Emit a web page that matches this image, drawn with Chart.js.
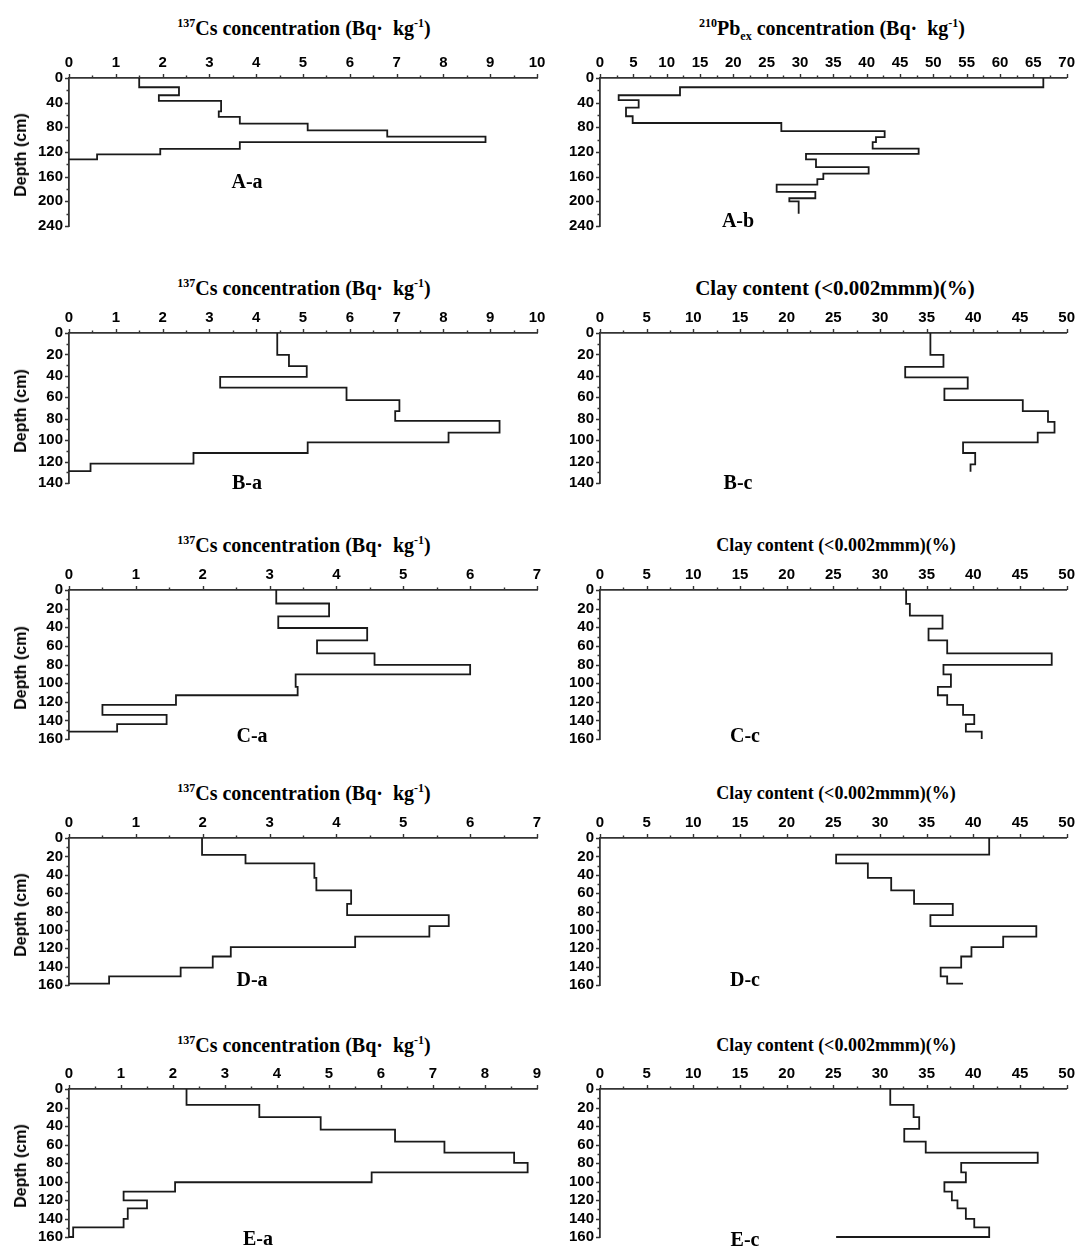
<!DOCTYPE html>
<html>
<head>
<meta charset="utf-8">
<script src="https://cdn.jsdelivr.net/npm/chart.js@4.4.0/dist/chart.umd.min.js"></script>
<style>
  html,body{margin:0;padding:0;background:#fff;}
  body{width:1081px;height:1252px;position:relative;overflow:hidden;}
  canvas.c{position:absolute;}
  .ttl{position:absolute;font-family:"Liberation Serif","Times New Roman",serif;font-weight:bold;color:#000;white-space:nowrap;transform:translate(-50%,-50%);line-height:1;}
  .ttl sup{font-size:60%;vertical-align:0.7em;line-height:0;}
  .ttl sub{font-size:60%;vertical-align:-0.45em;line-height:0;}
  .lbl{position:absolute;font-family:"Liberation Serif","Times New Roman",serif;font-weight:bold;font-size:20px;color:#000;white-space:nowrap;transform:translate(-50%,-50%);line-height:1;}
  .dep{position:absolute;font-family:"Liberation Sans",Arial,sans-serif;font-weight:bold;font-size:16px;color:#000;white-space:nowrap;transform:translate(-50%,-50%) rotate(-90deg);line-height:1;}
</style>
</head>
<body>
<script>
// ---------------- DATA ----------------
// Tick labels (axis ranges / steps)
const csTicks10 = [0,1,2,3,4,5,6,7,8,9,10];
const csTicks7 = [0,1,2,3,4,5,6,7];
const csTicks9 = [0,1,2,3,4,5,6,7,8,9];
const pbTicks70 = [0,5,10,15,20,25,30,35,40,45,50,55,60,65,70];
const clayTicks50 = [0,5,10,15,20,25,30,35,40,45,50];
const depthTicks240 = [0,40,80,120,160,200,240];
const depthTicks140 = [0,20,40,60,80,100,120,140];
const depthTicks160 = [0,20,40,60,80,100,120,140,160];

// A-a : 137Cs (Bq/kg) by depth layer (layer boundaries in cm)
const aaDepth = [0,15,28,37,54,63,74,85,95,104,115,124,132];
const aaCs    = [1.5,2.35,1.92,3.25,3.2,3.65,5.1,6.8,8.9,3.65,1.95,0.6];
const aaTail  = 0;

// A-b : 210Pbex (Bq/kg)
const abDepth = [0,15,28,36,48,62,73,86,96,104,114.5,123,132,144.5,155,164,173,184.5,195,200,220];
const abPb    = [66.5,12,2.8,5.8,3.9,4.9,27.2,42.7,41.4,40.9,47.8,30.9,32.4,40.3,33.5,32.6,26.5,32.3,28.4,29.8];
const abTail  = null;

// B-a : 137Cs
const baDepth = [0,20.5,31,41,51,62.6,73,82,93,102,112,122,129];
const baCs    = [4.45,4.7,5.08,3.23,5.93,7.06,6.97,9.2,8.11,5.1,2.66,0.46];
const baTail  = 0;

// B-c : clay content (%)
const bcDepth = [0,20.5,31.6,41.5,52,62.6,73,83,93,102,112,122.6,129.5];
const bcClay  = [35.4,36.8,32.7,39.4,36.9,45.3,48,48.7,46.9,38.9,40.2,39.7];
const bcTail  = null;

// C-a : 137Cs
const caDepth = [0,14.5,28.3,40.8,54,68,80.5,90.5,104,113,123.4,134,144,152];
const caCs    = [3.1,3.89,3.13,4.46,3.71,4.57,6.0,3.39,3.42,1.6,0.5,1.46,0.72];
const caTail  = 0;

// C-c : clay content (%)
const ccDepth = [0,15,27.6,41.5,54,68,80.5,90.5,104,113,123.4,134,144,152,160];
const ccClay  = [32.8,33.2,36.7,35.2,37.2,48.4,36.8,37.6,36.2,37.2,38.9,40.1,39.2,40.9];
const ccTail  = null;

// D-a : 137Cs
const daDepth = [0,18.4,27.7,43.3,57,71.7,84,96,107.4,118.8,129,141,150.6,158.6];
const daCs    = [1.99,2.64,3.67,3.7,4.22,4.16,5.68,5.39,4.28,2.42,2.15,1.67,0.6];
const daTail  = 0;

// D-c : clay content (%)
const dcDepth = [0,18,27.7,43.3,57,71.7,84,96,107.4,118.8,129,141,150.6,158.6];
const dcClay  = [41.7,25.3,28.7,31.2,33.65,37.8,35.4,46.75,43.2,39.8,38.7,36.5,37.2];
const dcTail  = 38.9;

// E-a : 137Cs
const eaDepth = [0,17.2,30.3,44,56.8,68.8,79.8,90.2,100.8,111,120.4,129,140.4,149.7,160];
const eaCs    = [2.26,3.66,4.84,6.27,7.22,8.56,8.82,5.82,2.04,1.05,1.5,1.13,1.05,0.08];
const eaTail  = 0;

// E-c : clay content (%)
const ecDepth = [0,17.2,30.3,43,56.8,68.8,79.8,90.2,100.8,111,120.4,129,140.4,149.7,160];
const ecClay  = [31.1,33.6,34.2,32.6,34.9,46.9,38.7,39.2,36.9,37.7,38.3,39.2,40.1,41.7];
const ecTail  = 25.3;

const csTitle   = '<sup>137</sup>Cs concentration (Bq·&nbsp;&nbsp;kg<sup>-1</sup>)';
const pbTitle   = '<sup>210</sup>Pb<sub>ex</sub> concentration (Bq·&nbsp;&nbsp;kg<sup>-1</sup>)';
const clayTitle = 'Clay content (&lt;0.002mmm)(%)';

// ---------------- LAYOUT ----------------
const COLS = [
  {canvasLeft:0,   canvasWidth:552, axisW:69, padRight:15},
  {canvasLeft:560, canvasWidth:521, axisW:40, padRight:14}
];
const ROWS = [
  {top:78,  bottom:232, titleY:28},
  {top:333, bottom:489, titleY:288},
  {top:590, bottom:745, titleY:545},
  {top:838, bottom:991, titleY:793},
  {top:1089,bottom:1243,titleY:1045}
];

const panels = [
  {name:'A-a', row:0, col:0, depth:aaDepth, vals:aaCs,   tail:aaTail, xt:csTicks10,  yt:depthTicks240, title:csTitle,   tsize:20, tx:304, lx:247, ly:181},
  {name:'A-b', row:0, col:1, depth:abDepth, vals:abPb,   tail:abTail, xt:pbTicks70,  yt:depthTicks240, title:pbTitle,   tsize:20, tx:832, lx:738, ly:220},
  {name:'B-a', row:1, col:0, depth:baDepth, vals:baCs,   tail:baTail, xt:csTicks10,  yt:depthTicks140, title:csTitle,   tsize:20, tx:304, lx:247, ly:482},
  {name:'B-c', row:1, col:1, depth:bcDepth, vals:bcClay, tail:bcTail, xt:clayTicks50,yt:depthTicks140, title:clayTitle, tsize:21, tx:835, lx:738, ly:482},
  {name:'C-a', row:2, col:0, depth:caDepth, vals:caCs,   tail:caTail, xt:csTicks7,   yt:depthTicks160, title:csTitle,   tsize:20, tx:304, lx:252, ly:735},
  {name:'C-c', row:2, col:1, depth:ccDepth, vals:ccClay, tail:ccTail, xt:clayTicks50,yt:depthTicks160, title:clayTitle, tsize:18, tx:836, lx:745, ly:735},
  {name:'D-a', row:3, col:0, depth:daDepth, vals:daCs,   tail:daTail, xt:csTicks7,   yt:depthTicks160, title:csTitle,   tsize:20, tx:304, lx:252, ly:979},
  {name:'D-c', row:3, col:1, depth:dcDepth, vals:dcClay, tail:dcTail, xt:clayTicks50,yt:depthTicks160, title:clayTitle, tsize:18, tx:836, lx:745, ly:979},
  {name:'E-a', row:4, col:0, depth:eaDepth, vals:eaCs,   tail:eaTail, xt:csTicks9,   yt:depthTicks160, title:csTitle,   tsize:20, tx:304, lx:258, ly:1238},
  {name:'E-c', row:4, col:1, depth:ecDepth, vals:ecClay, tail:ecTail, xt:clayTicks50,yt:depthTicks160, title:clayTitle, tsize:18, tx:836, lx:745, ly:1239}
];

function stepPoints(depths, vals, tail){
  const pts = [];
  for (let i = 0; i < vals.length; i++){
    pts.push({x: vals[i], y: depths[i]});
    pts.push({x: vals[i], y: depths[i+1]});
  }
  if (tail !== null) pts.push({x: tail, y: depths[depths.length-1]});
  return pts;
}

const tickFont = {family:"'Liberation Sans Narrow','Liberation Sans',Arial,sans-serif", weight:'bold', size:15};
const AXIS_COLOR = '#333';

const minorTicks = {
  id:'minorTicks',
  afterDraw(chart){
    const {ctx} = chart;
    const x = chart.scales.x, y = chart.scales.y;
    const xs = chart.options.scales.x.ticks.stepSize;
    const ys = chart.options.scales.y.ticks.stepSize;
    ctx.save();
    ctx.strokeStyle = AXIS_COLOR;
    ctx.lineWidth = 1.4;
    ctx.beginPath();
    for (let k = 0; k <= Math.round((x.max - x.min) / (xs/2)); k++){
      const v = x.min + k * xs/2;
      const px = Math.round(x.getPixelForValue(v)) + 0.5;
      const len = (k % 2 === 0) ? 4 : 2.5;
      ctx.moveTo(px, x.bottom);
      ctx.lineTo(px, x.bottom - len);
    }
    for (let k = 0; k <= Math.round((y.max - y.min) / (ys/2)); k++){
      const v = y.min + k * ys/2;
      const py = Math.round(y.getPixelForValue(v)) + 0.5;
      const len = (k % 2 === 0) ? 4 : 2.5;
      ctx.moveTo(y.right, py);
      ctx.lineTo(y.right - len, py);
    }
    ctx.stroke();
    ctx.restore();
  }
};

const X_H = 30, PAD_B = 9;

panels.forEach(p => {
  const col = COLS[p.col], row = ROWS[p.row];
  const cv = document.createElement('canvas');
  cv.className = 'c';
  const cTop = row.top - X_H;
  const cH = (row.bottom - row.top) + X_H + PAD_B;
  cv.width = col.canvasWidth; cv.height = cH;
  cv.style.left = col.canvasLeft + 'px';
  cv.style.top = cTop + 'px';
  cv.style.width = col.canvasWidth + 'px';
  cv.style.height = cH + 'px';
  document.body.appendChild(cv);

  const xt = p.xt, yt = p.yt;
  new Chart(cv.getContext('2d'), {
    type: 'scatter',
    data: {
      datasets: [{
        data: stepPoints(p.depth, p.vals, p.tail),
        showLine: true,
        borderColor: '#1a1a1a',
        borderWidth: 1.8,
        pointRadius: 0,
        pointHoverRadius: 0,
        tension: 0,
        fill: false,
        clip: false
      }]
    },
    options: {
      responsive: false,
      animation: false,
      devicePixelRatio: 1,
      events: [],
      layout: {padding: {left: 0, right: col.padRight, top: 0, bottom: PAD_B}},
      plugins: {legend: {display: false}, tooltip: {enabled: false}, title: {display: false}},
      scales: {
        x: {
          type: 'linear', position: 'top',
          min: xt[0], max: xt[xt.length-1],
          afterBuildTicks: s => { s.ticks = xt.map(v => ({value: v})); },
          ticks: {stepSize: xt[1]-xt[0], padding: 6, color: '#000', font: tickFont, maxRotation: 0, autoSkip: false},
          grid: {display: false, drawTicks: false},
          border: {display: true, color: AXIS_COLOR, width: 1.8},
          afterFit: s => { s.height = X_H; }
        },
        y: {
          type: 'linear', position: 'left', reverse: true,
          min: yt[0], max: yt[yt.length-1],
          afterBuildTicks: s => { s.ticks = yt.map(v => ({value: v})); },
          ticks: {stepSize: yt[1]-yt[0], padding: 6, color: '#000', font: tickFont, autoSkip: false},
          grid: {display: false, drawTicks: false},
          border: {display: true, color: AXIS_COLOR, width: 1.8},
          afterFit: s => { s.width = col.axisW; }
        }
      }
    },
    plugins: [minorTicks]
  });

  const t = document.createElement('div');
  t.className = 'ttl';
  t.style.fontSize = p.tsize + 'px';
  t.style.left = p.tx + 'px';
  t.style.top = row.titleY + 'px';
  t.innerHTML = p.title;
  document.body.appendChild(t);

  const l = document.createElement('div');
  l.className = 'lbl';
  l.style.left = p.lx + 'px';
  l.style.top = p.ly + 'px';
  l.textContent = p.name;
  document.body.appendChild(l);

  if (p.col === 0){
    const d = document.createElement('div');
    d.className = 'dep';
    d.style.left = '21px';
    d.style.top = ((row.top + row.bottom) / 2) + 'px';
    d.textContent = 'Depth (cm)';
    document.body.appendChild(d);
  }
});
</script>
</body>
</html>
